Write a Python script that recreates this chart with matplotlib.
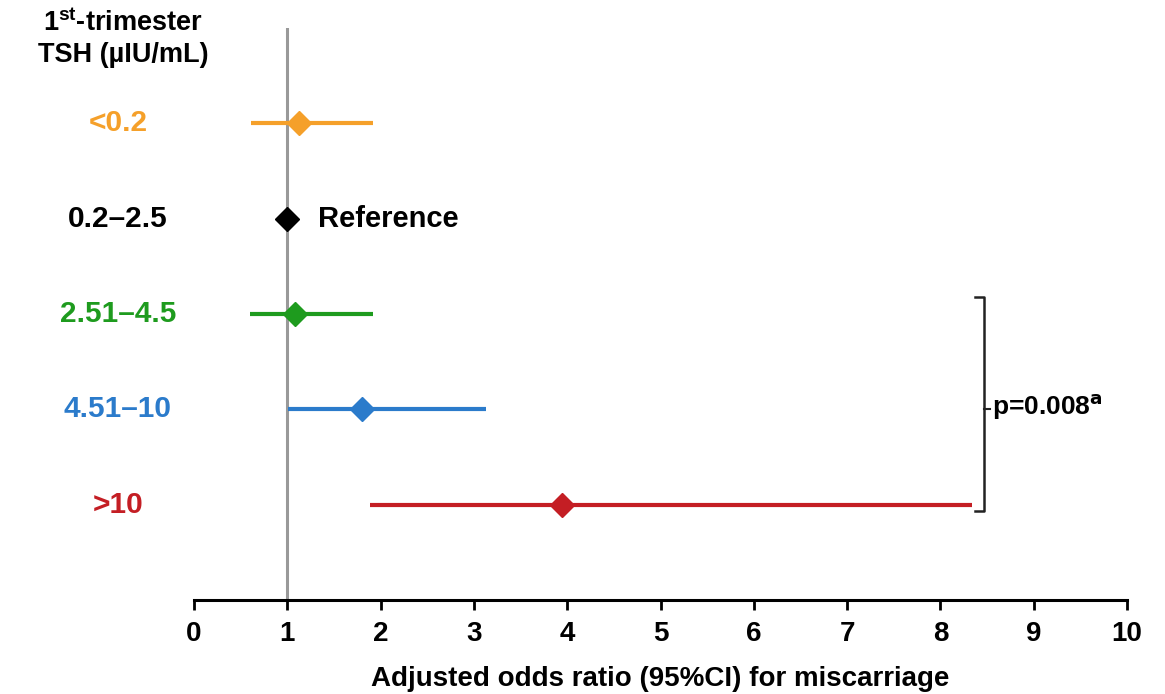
import matplotlib.pyplot as plt

plt.rcParams['font.family'] = ['Liberation Sans', 'DejaVu Sans']
plt.rcParams['font.weight'] = 'bold'
plt.rcParams['mathtext.fontset'] = 'custom'
plt.rcParams['mathtext.bf'] = 'Liberation Sans:bold'
plt.rcParams['mathtext.rm'] = 'Liberation Sans:bold'
plt.rcParams['mathtext.default'] = 'bf'

# TSH groups, top to bottom
groups = ['<0.2', '0.2–2.5', '2.51–4.5', '4.51–10', '>10']
odds = [1.13, 1.00, 1.08, 1.80, 3.94]
ci_low = [0.61, None, 0.60, 1.01, 1.89]
ci_high = [1.92, None, 1.92, 3.13, 8.34]
colors = ['#F5A02A', '#000000', '#1E9B1E', '#2B7BCB', '#C41E24']
ticks = list(range(0, 11))

fig = plt.figure(figsize=(11.65, 6.94), dpi=100)
ax = fig.add_axes([194 / 1165, 94 / 694, 933 / 1165, 572 / 694])
ax.set_xlim(0, 10)
ax.set_ylim(0, 6)

ax.axvline(1, color='#999999', lw=2.2, zorder=1)

ypos = [5, 4, 3, 2, 1]
for y, g, o, lo, hi, c in zip(ypos, groups, odds, ci_low, ci_high, colors):
    if lo is not None:
        ax.plot([lo, hi], [y, y], color=c, lw=3, solid_capstyle='butt', zorder=2)
    ax.plot([o], [y], marker='D', color=c, ms=12, zorder=3)
    ax.text(-0.815, y, g, color=c, fontsize=21.5, ha='center', va='center',
            clip_on=False)

ax.text(1.33, 4, 'Reference', fontsize=21, ha='left', va='center')

# header
ax.text(-0.76, 6.05, '1$^{st}$-trimester', fontsize=19.5,
        ha='center', va='center', clip_on=False)
ax.text(-0.76, 5.72, 'TSH (µIU/mL)', fontsize=19.5,
        ha='center', va='center', clip_on=False)

# bracket
bx = 8.47
ax.plot([bx - 0.1, bx, bx, bx - 0.1], [3.18, 3.18, 0.93, 0.93], color='#222222',
        lw=1.8, clip_on=False)
ax.plot([bx, bx + 0.06], [2.0, 2.0], color='#222222', lw=1.5, clip_on=False)
ax.text(bx + 0.08, 2.02, 'p=0.008$^{\\mathsf{a}}$', fontsize=19, ha='left', va='center')

for s in ['top', 'right', 'left']:
    ax.spines[s].set_visible(False)
ax.spines['bottom'].set_linewidth(2.2)
ax.set_yticks([])
ax.set_xticks(ticks)
ax.tick_params(axis='x', length=7, width=2, labelsize=20, pad=8)
ax.set_xlabel('Adjusted odds ratio (95%CI) for miscarriage', fontsize=20,
              fontweight='bold', labelpad=14)

fig.savefig('out.png', dpi=100)
